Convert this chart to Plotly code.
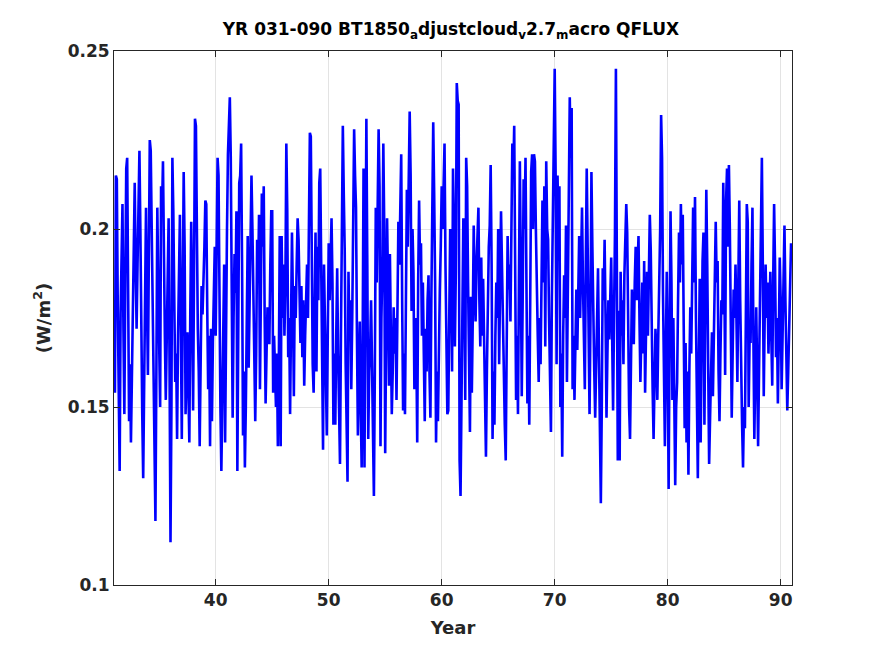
import plotly.graph_objects as go

# model years shown on the x axis (monthly values start at year 31)
first_year = 31
x_ticks = [40, 50, 60, 70, 80, 90]
y_ticks = [0.1, 0.15, 0.2, 0.25]
y_tick_labels = ["0.1", "0.15", "0.2", "0.25"]

# monthly QFLUX, one row per year, in 1e-3 W/m2
qflux_milli = [
    [169, 154, 215, 214, 178, 150, 132, 176, 195, 207, 172, 148],  # 31
    [185, 217, 220, 178, 146, 162, 140, 158, 176, 198, 213, 190],
    [172, 190, 209, 222, 200, 165, 148, 130, 152, 184, 206, 180],
    [159, 192, 225, 222, 200, 179, 145, 128, 118, 160, 206, 185],
    [168, 150, 212, 205, 219, 188, 170, 152, 175, 190, 203, 160],
    [112, 150, 220, 205, 184, 157, 165, 141, 170, 192, 204, 172],
    [141, 180, 216, 195, 148, 160, 171, 155, 140, 176, 202, 180],
    [149, 188, 231, 229, 196, 172, 160, 139, 162, 184, 176, 184],
    [195, 208, 207, 178, 155, 170, 139, 172, 146, 168, 185, 195],
    [170, 200, 220, 215, 175, 150, 132, 148, 166, 190, 140, 185],  # 40
    [200, 221, 228, 237, 220, 180, 147, 175, 193, 182, 205, 132],
    [170, 213, 215, 224, 190, 142, 160, 133, 150, 185, 198, 161],
    [180, 205, 215, 200, 184, 170, 146, 165, 197, 185, 204, 155],
    [185, 210, 195, 212, 175, 151, 165, 178, 168, 168, 190, 205],
    [205, 154, 170, 160, 150, 165, 139, 160, 198, 139, 198, 175],
    [190, 170, 184, 224, 205, 164, 175, 148, 170, 199, 180, 153],
    [184, 175, 190, 203, 197, 180, 168, 184, 164, 180, 156, 170],
    [185, 190, 175, 204, 227, 226, 180, 162, 154, 175, 199, 160],
    [195, 180, 213, 217, 190, 160, 138, 190, 175, 155, 142, 170],
    [196, 180, 190, 203, 185, 145, 165, 145, 170, 189, 165, 150],  # 50
    [134, 170, 200, 229, 210, 194, 162, 150, 129, 188, 170, 180],
    [155, 175, 200, 228, 215, 206, 170, 142, 160, 174, 150, 133],
    [165, 217, 133, 200, 231, 190, 141, 160, 166, 180, 165, 150],
    [125, 160, 206, 185, 210, 228, 212, 139, 175, 190, 224, 200],
    [137, 170, 203, 185, 156, 193, 165, 148, 160, 178, 165, 175],
    [152, 180, 202, 190, 214, 221, 180, 149, 165, 148, 180, 211],
    [195, 215, 233, 215, 177, 200, 188, 155, 175, 168, 140, 185],
    [208, 190, 196, 170, 185, 165, 146, 172, 160, 180, 187, 160],
    [147, 180, 205, 230, 210, 185, 140, 160, 146, 170, 183, 195],
    [212, 200, 215, 224, 190, 165, 148, 149, 172, 200, 190, 160],  # 60
    [217, 200, 167, 188, 241, 236, 235, 135, 125, 150, 175, 203],
    [185, 152, 220, 212, 185, 160, 143, 181, 154, 175, 201, 185],
    [174, 190, 200, 206, 180, 167, 192, 170, 186, 167, 150, 136],
    [160, 188, 195, 201, 218, 190, 141, 160, 145, 170, 185, 175],
    [200, 162, 180, 205, 190, 170, 152, 145, 135, 170, 198, 183],
    [190, 174, 200, 224, 215, 229, 190, 152, 170, 148, 185, 219],
    [190, 153, 180, 214, 200, 220, 185, 151, 170, 145, 180, 216],
    [221, 200, 221, 219, 200, 180, 170, 157, 175, 162, 190, 208],
    [185, 212, 167, 219, 200, 197, 175, 160, 143, 181, 205, 240],
    [245, 215, 162, 215, 200, 212, 150, 165, 136, 170, 187, 175],  # 70
    [201, 157, 180, 215, 237, 220, 234, 155, 170, 152, 165, 183],
    [166, 185, 198, 175, 195, 206, 185, 170, 155, 190, 217, 195],
    [170, 148, 175, 216, 195, 171, 160, 147, 165, 180, 189, 165],
    [140, 123, 150, 189, 180, 197, 175, 147, 165, 180, 169, 185],
    [192, 170, 149, 175, 199, 245, 200, 135, 177, 135, 188, 170],
    [180, 162, 187, 195, 207, 199, 170, 150, 141, 165, 183, 168],
    [168, 185, 195, 180, 190, 198, 175, 157, 170, 185, 165, 191],
    [154, 175, 188, 170, 190, 204, 194, 170, 155, 141, 160, 172],
    [165, 152, 170, 186, 200, 232, 220, 182, 160, 139, 165, 188],
    [163, 127, 170, 205, 185, 152, 175, 150, 128, 150, 157, 180],  # 80
    [199, 185, 207, 190, 204, 173, 144, 168, 140, 160, 131, 160],
    [178, 165, 190, 206, 185, 209, 175, 146, 130, 160, 186, 140],
    [175, 191, 199, 145, 180, 211, 190, 169, 134, 147, 160, 171],
    [153, 173, 190, 202, 185, 191, 160, 146, 165, 180, 176, 213],
    [190, 159, 208, 217, 195, 218, 200, 170, 147, 165, 183, 175],
    [190, 175, 157, 185, 208, 180, 155, 145, 133, 150, 144, 180],
    [207, 202, 150, 170, 168, 190, 206, 170, 141, 160, 178, 160],
    [139, 160, 185, 205, 220, 190, 153, 175, 190, 175, 185, 165],
    [180, 188, 170, 156, 185, 207, 190, 164, 175, 151, 170, 192],
    [180, 155, 170, 190, 201, 180, 165, 149, 160, 175, 185, 196],  # 90
]

years = []
qflux = []
for row, months in enumerate(qflux_milli):
    for m, v in enumerate(months):
        years.append(first_year + row + m / 12)
        qflux.append(v / 1000)

text_color = "#262626"
fig = go.Figure()
fig.add_trace(go.Scatter(x=years, y=qflux, mode="lines",
                         line=dict(color="#0000ff", width=2.6),
                         showlegend=False))

axis_common = dict(showline=True, mirror="allticks", linecolor=text_color, linewidth=1,
                   ticks="inside", ticklen=6, tickcolor=text_color,
                   showgrid=True, gridcolor="#e3e3e3", gridwidth=1, zeroline=False,
                   tickfont=dict(family="DejaVu Sans", size=17, color=text_color, weight="bold"))

fig.update_xaxes(range=[31, 91], tickvals=x_ticks,
                 title=dict(text="<b>Year</b>", standoff=11,
                            font=dict(family="DejaVu Sans", size=18, color=text_color)),
                 **axis_common)
fig.update_yaxes(range=[0.1, 0.25], tickvals=y_ticks, ticktext=y_tick_labels,
                 title=dict(text="<b>(W/m<sup>2</sup>)</b>", standoff=12,
                            font=dict(family="DejaVu Sans", size=18, color=text_color)),
                 **axis_common)

fig.update_layout(
    width=875, height=656,
    margin=dict(l=106, r=91, t=43, b=79),
    paper_bgcolor="white", plot_bgcolor="white",
    font=dict(family="DejaVu Sans", color=text_color),
    title=dict(text="<b>YR 031-090 BT1850<sub>a</sub>djustcloud<sub>v</sub>2.7<sub>m</sub>acro QFLUX</b>",
               x=0.5063, xanchor="center", y=0.968, yanchor="middle",
               font=dict(family="DejaVu Sans", size=17, color="black")),
)

fig.write_html("out.html")
